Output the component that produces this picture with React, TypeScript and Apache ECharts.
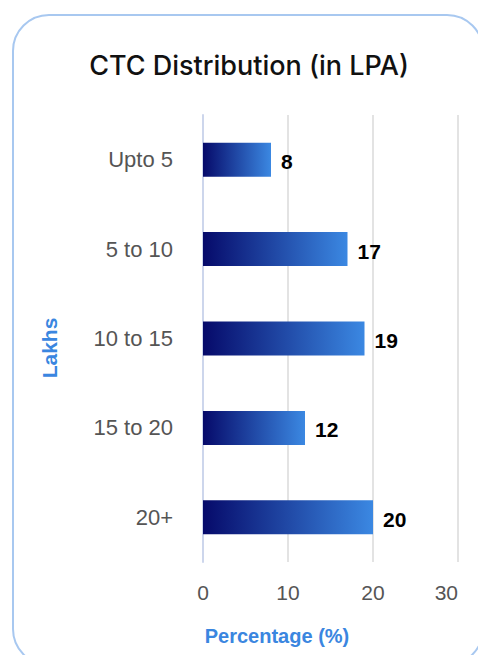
import React, { useEffect, useRef } from "react";
import * as echarts from "echarts";

const categories = ["Upto 5", "5 to 10", "10 to 15", "15 to 20", "20+"];
const values = [8, 17, 19, 12, 20];
const xTicks = [0, 10, 20, 30];
const xAxisName = "Percentage (%)";
const yAxisName = "Lakhs";

export default function App() {
  const ref = useRef<HTMLDivElement>(null);
  useEffect(() => {
    if (!ref.current) return;
    const chart = echarts.init(ref.current, undefined, { renderer: "svg" });
    chart.setOption({
      animation: false,
      title: {
        text: "CTC Distribution (in LPA)",
        left: 244,
        textAlign: "center",
        top: 47,
        textStyle: { fontFamily: "Inter", fontSize: 27, fontWeight: 500, color: "#111" },
      },
      graphic: [
        {
          type: "rect",
          shape: { x: 13, y: 15, width: 470, height: 650, r: 36 },
          style: { fill: "none", stroke: "#a8c8f0", lineWidth: 2 },
          silent: true,
        },
        {
          type: "text",
          x: 277,
          y: 636,
          style: {
            text: xAxisName,
            fontFamily: "Liberation Sans",
            fontSize: 20,
            fontWeight: "bold",
            fill: "#3a86e0",
            align: "center",
            verticalAlign: "middle",
          },
        },
        {
          type: "text",
          x: 49,
          y: 348,
          rotation: Math.PI / 2,
          style: {
            text: yAxisName,
            fontFamily: "Liberation Sans",
            fontSize: 21,
            fontWeight: "bold",
            fill: "#3a86e0",
            align: "center",
            verticalAlign: "middle",
          },
        },
      ],
      grid: { left: 203, right: 20, top: 115, bottom: 93 },
      xAxis: {
        type: "value",
        min: xTicks[0],
        max: xTicks[xTicks.length - 1],
        interval: 10,
        axisLine: { show: false },
        axisTick: { show: false },
        splitLine: { lineStyle: { color: "#e3e3e3", width: 2 } },
        axisLabel: {
          fontFamily: "Liberation Sans",
          fontSize: 21,
          color: "#555",
          margin: 20,
          alignMaxLabel: "right",
        },
      },
      yAxis: {
        type: "category",
        data: categories,
        inverse: true,
        axisLine: { show: true, lineStyle: { color: "#cdd6ec", width: 2 } },
        axisTick: { show: false },
        axisLabel: { fontFamily: "Liberation Sans", fontSize: 22, color: "#555", margin: 30, padding: [4, 0, 0, 0] },
      },
      series: [
        {
          type: "bar",
          data: values,
          barWidth: 34,
          itemStyle: {
            color: new echarts.graphic.LinearGradient(0, 0, 1, 0, [
              { offset: 0, color: "#060a6a" },
              { offset: 1, color: "#3b88e2" },
            ]),
          },
          label: {
            show: true,
            position: "right",
            distance: 10,
            offset: [0, 2],
            fontFamily: "Liberation Sans",
            fontSize: 21,
            fontWeight: "bold",
            color: "#000",
          },
        },
      ],
    });
    return () => chart.dispose();
  }, []);
  return (
    <div
      ref={ref}
      style={{ position: "absolute", left: 0, top: 0, width: 478, height: 655, background: "#fff" }}
    />
  );
}
